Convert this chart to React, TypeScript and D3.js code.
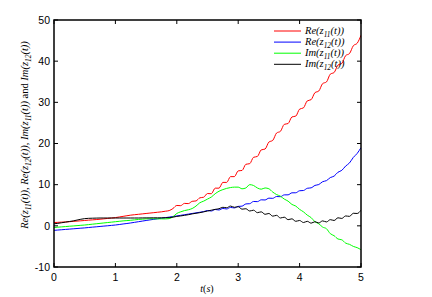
import React from "react";
import * as d3 from "d3";

// time grid (s), one sample every 1/16 s
const STEP = 0.0625;
const reZ11 = [
  0.8,0.85,0.9,0.95,1.0,1.08,1.15,1.22,1.3,1.38,1.45,1.52,1.6,1.7,1.8,1.9,
  2.0,2.15,2.3,2.45,2.6,2.7,2.8,2.9,3.0,3.1,3.2,3.3,3.4,3.55,3.7,4.2,
  4.95,4.9,5.45,5.4,5.95,6.05,6.8,6.95,7.85,7.8,9.15,9.15,10.55,10.55,11.95,11.95,
  13.35,13.45,14.95,15.1,16.65,16.85,18.45,18.65,20.35,20.75,22.55,22.95,24.65,24.85,26.45,26.65,
  28.35,28.65,30.35,30.65,32.35,32.75,34.55,34.95,36.85,37.25,39.05,39.45,41.35,41.85,43.75,44.35,46.3,
];
const reZ12 = [
  -1.1,-1.02,-0.95,-0.87,-0.8,-0.72,-0.65,-0.57,-0.5,-0.41,-0.32,-0.24,-0.15,-0.06,0.02,0.11,
  0.2,0.32,0.45,0.57,0.7,0.85,1.0,1.15,1.3,1.44,1.58,1.71,1.85,1.99,2.12,2.26,
  2.4,2.55,2.7,2.85,3.0,3.15,3.3,3.45,3.72,3.6,3.97,3.85,4.22,4.1,4.47,4.35,
  4.72,4.78,5.32,5.38,5.92,5.88,6.32,6.28,6.72,6.68,7.12,7.08,7.52,7.53,8.02,8.03,
  8.52,8.58,9.12,9.23,9.82,10.03,10.72,10.98,11.72,12.08,13.02,13.48,14.52,15.28,16.62,17.58,19.0,
];
const imZ11 = [
  -0.4,-0.33,-0.25,-0.18,-0.1,-0.03,0.05,0.13,0.2,0.3,0.4,0.5,0.6,0.7,0.8,0.9,
  1.0,1.1,1.2,1.27,1.35,1.45,1.55,1.62,1.7,1.72,1.72,1.7,1.7,1.68,1.75,2.2,
  3.0,3.4,3.7,3.9,4.2,4.8,5.6,6.0,6.5,7.0,7.8,8.4,8.8,9.1,9.3,9.4,
  9.4,9.0,9.2,10.0,9.8,9.2,8.9,9.2,9.0,8.2,7.6,7.2,6.5,6.0,5.2,4.8,
  4.0,3.4,2.6,2.0,1.0,0.5,-0.3,-0.7,-1.9,-2.4,-3.2,-3.4,-4.2,-4.5,-5.0,-5.3,-5.8,
];
const imZ12 = [
  0.5,0.6,0.75,0.9,1.05,1.2,1.4,1.6,1.75,1.82,1.85,1.88,1.9,1.9,1.9,1.9,
  1.9,1.9,1.9,1.9,1.9,1.9,1.9,1.92,1.93,1.94,1.95,1.95,1.95,1.97,2.0,2.1,
  2.3,2.4,2.55,2.7,2.9,3.05,3.2,3.4,3.6,3.8,4.0,4.15,4.5,4.4,4.8,4.5,
  4.65,4.05,4.15,3.6,3.8,3.2,3.4,2.8,3.0,2.35,2.55,1.9,2.1,1.5,1.7,1.1,
  1.3,0.8,1.1,0.65,1.0,0.7,1.2,0.95,1.5,1.3,1.95,1.8,2.4,2.3,3.05,3.0,3.8,
];
const xTicks = [0, 1, 2, 3, 4, 5];
const yTicks = [-10, 0, 10, 20, 30, 40, 50];
const seriesNames = ["Re", "Re", "Im", "Im"];
const seriesSubs = ["11", "12", "11", "12"];
const seriesColors = ["#ff0000", "#0000ff", "#00ff00", "#000000"];
const seriesData = [reZ11, reZ12, imZ11, imZ12];

const W = 432, H = 297;
const L = 54, R = 361, T = 20, B = 267;

export default function App() {
  const x = d3.scaleLinear().domain([0, 5]).range([L, R]);
  const y = d3.scaleLinear().domain([-10, 50]).range([B, T]);
  const line = d3
    .line<number>()
    .x((_, i) => x(i * STEP))
    .y((d) => y(d))
    .curve(d3.curveMonotoneX);
  const tick = 4;
  const serif = "'Liberation Serif', 'DejaVu Serif', serif";
  const sans = "'Liberation Sans', Arial, sans-serif";

  const mathLabel = (name: string, sub: string, fs: number) => (
    <>
      <tspan fontStyle="italic">{name}(z</tspan>
      <tspan fontStyle="italic" fontSize={fs * 0.7} dy={fs * 0.25}>{sub}</tspan>
      <tspan fontStyle="italic" dy={-fs * 0.25}>(t))</tspan>
    </>
  );

  return (
    <svg width={W} height={H} style={{ position: "absolute", left: 0, top: 0, background: "#fff" }}>
      <rect x={0} y={0} width={W} height={H} fill="#fff" />
      <defs>
        <clipPath id="plot">
          <rect x={L} y={T} width={R - L} height={B - T} />
        </clipPath>
      </defs>
      <g clipPath="url(#plot)">
        {seriesData.map((d, k) => (
          <path key={k} d={line(d) || ""} fill="none" stroke={seriesColors[k]} strokeWidth={1} />
        ))}
      </g>
      <rect x={L} y={T} width={R - L} height={B - T} fill="none" stroke="#000" strokeWidth={1.5} />
      {xTicks.map((t) => (
        <g key={"x" + t}>
          <line x1={x(t)} x2={x(t)} y1={B} y2={B - tick} stroke="#000" strokeWidth={1} />
          <line x1={x(t)} x2={x(t)} y1={T} y2={T + tick} stroke="#000" strokeWidth={1} />
          <text x={x(t)} y={281} textAnchor="middle" fontFamily={sans} fontSize={10.5} fill="#000">
            {t}
          </text>
        </g>
      ))}
      {yTicks.map((v) => (
        <g key={"y" + v}>
          <line x1={L} x2={L + tick} y1={y(v)} y2={y(v)} stroke="#000" strokeWidth={1} />
          <line x1={R} x2={R - tick} y1={y(v)} y2={y(v)} stroke="#000" strokeWidth={1} />
          <text x={L - 4} y={y(v) + 3.8} textAnchor="end" fontFamily={sans} fontSize={10.5} fill="#000">
            {v}
          </text>
        </g>
      ))}
      <text x={207} y={292} textAnchor="middle" fontFamily={serif} fontSize={10} fill="#000">
        <tspan fontStyle="italic">t</tspan>(<tspan fontStyle="italic">s</tspan>)
      </text>
      <text
        transform="translate(28,135) rotate(-90)"
        textAnchor="middle"
        fontFamily={serif}
        fontSize={10.5}
        fill="#000"
      >
        {mathLabel("Re", "11", 10.5)}
        <tspan>, </tspan>
        {mathLabel("Re", "12", 10.5)}
        <tspan>, </tspan>
        {mathLabel("Im", "11", 10.5)}
        <tspan> and </tspan>
        {mathLabel("Im", "12", 10.5)}
      </text>
      {seriesData.map((_, k) => {
        const ly = 31 + k * 11.1;
        return (
          <g key={"lg" + k}>
            <line x1={274} x2={301} y1={ly} y2={ly} stroke={seriesColors[k]} strokeWidth={1} />
            <text x={305} y={ly + 3} fontFamily={serif} fontSize={10.5} fill="#000">
              {mathLabel(seriesNames[k], seriesSubs[k], 10.5)}
            </text>
          </g>
        );
      })}
    </svg>
  );
}
